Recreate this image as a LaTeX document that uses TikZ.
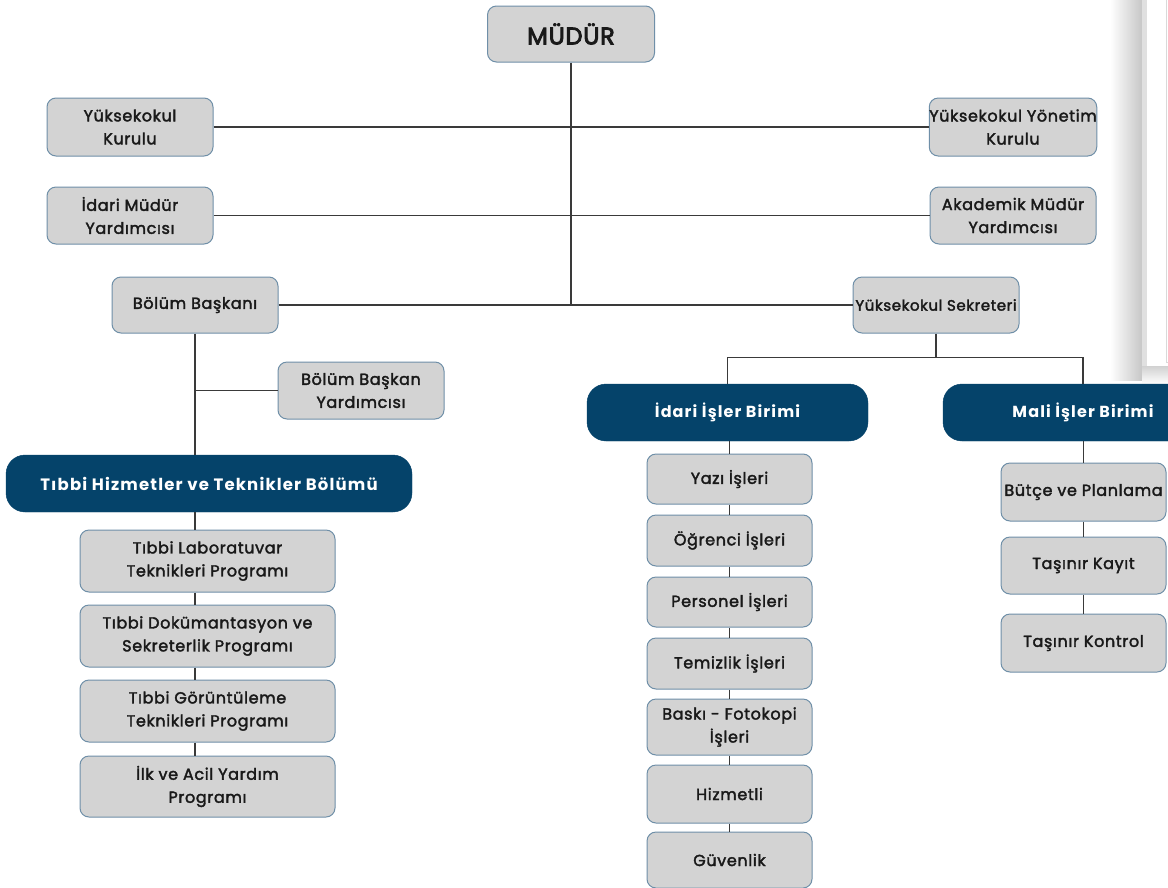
\documentclass[tikz,border=0pt]{standalone}
\usepackage{fontspec}
\setmainfont{Poppins}
\newfontfamily\gf{Poppins}[FakeBold=2.2, LetterSpace=4]
\newfontfamily\mf{Poppins}[FakeBold=3.6, LetterSpace=3]
\newfontfamily\df{Poppins}[LetterSpace=7]
\definecolor{boxgray}{HTML}{D3D3D3}
\definecolor{bord}{HTML}{6F8FA8}
\definecolor{navy}{HTML}{05436A}
\definecolor{linec}{HTML}{3A3A3A}
\begin{document}
\begin{tikzpicture}[x=1pt,y=-1pt,
  gbox/.style={draw=bord, fill=boxgray, line width=1pt, rounded corners=9pt, align=center, inner sep=0pt, text=black!90, font=\gf\fontsize{16}{23}\selectfont},
  dbox/.style={draw=navy, fill=navy, rounded corners=19pt, align=center, inner sep=0pt, text=white, font=\df\fontsize{16}{20}\selectfont\bfseries},
  wh/.style 2 args={minimum width=#1, minimum height=#2},
  conn/.style={draw=linec, line width=1.4pt}]
\clip (0,0) rectangle (1168,887);
\fill[white] (0,0) rectangle (1168,887);
% window frame artefact on the right
\shade[left color=white, right color=black!22] (1110,0) rectangle (1142,380);
\fill[black!12] (1142,0) rectangle (1147,380);
\shade[top color=black!18, bottom color=white] (1142,366) rectangle (1168,384);
\fill[white] (1147,0) rectangle (1168,364);
\draw[black!15, line width=0.6pt] (1166,0) -- (1166,362) -- (1168,362);

% nodes
\node[gbox, wh={167}{56}, font=\mf\fontsize{24}{28}\selectfont] (mudur) at (571,34) {MÜDÜR};
\node[gbox, wh={166}{58}] (yk) at (130,127) {Yüksekokul\\Kurulu};
\node[gbox, wh={166}{58}] (yyk) at (1013,127) {Yüksekokul Yönetim\\Kurulu};
\node[gbox, wh={166}{57}] (imy) at (130,215.5) {İdari Müdür\\Yardımcısı};
\node[gbox, wh={166}{57}] (amy) at (1013,215.5) {Akademik Müdür\\Yardımcısı};
\node[gbox, wh={166}{56}] (bb) at (195,305) {Bölüm Başkanı};
\node[gbox, wh={166}{56}, font=\gf\fontsize{15}{23}\selectfont] (ys) at (936,305) {Yüksekokul Sekreteri};
\node[gbox, wh={166}{57}] (bby) at (361,390.5) {Bölüm Başkan\\Yardımcısı};

\node[dbox, wh={406}{57}, font=\df\fontsize{16.5}{20}\selectfont\bfseries] (tibbi) at (209,483.5) {Tıbbi Hizmetler ve Teknikler Bölümü};
\node[gbox, wh={255}{62}] (p1) at (207.5,561) {Tıbbi Laboratuvar\\Teknikleri Programı};
\node[gbox, wh={255}{62}] (p2) at (207.5,636) {Tıbbi Dokümantasyon ve\\Sekreterlik Programı};
\node[gbox, wh={255}{62}] (p3) at (207.5,711) {Tıbbi Görüntüleme\\Teknikleri Programı};
\node[gbox, wh={255}{61}] (p4) at (207.5,786.5) {İlk ve Acil Yardım\\Programı};

\node[dbox, wh={281}{57}] (idari) at (727.5,412.5) {İdari İşler Birimi};
\node[gbox, wh={165}{50}] (i1) at (729.5,479) {Yazı İşleri};
\node[gbox, wh={165}{51}] (i2) at (729.5,540.5) {Öğrenci İşleri};
\node[gbox, wh={165}{50}] (i3) at (729.5,602) {Personel İşleri};
\node[gbox, wh={165}{51}] (i4) at (729.5,663.5) {Temizlik İşleri};
\node[gbox, wh={165}{56}] (i5) at (729.5,727) {Baskı - Fotokopi\\İşleri};
\node[gbox, wh={165}{58}] (i6) at (729.5,794) {Hizmetli};
\node[gbox, wh={165}{56}] (i7) at (729.5,860) {Güvenlik};

\node[dbox, wh={280}{57}] (mali) at (1083,412.5) {Mali İşler Birimi};
\node[gbox, wh={165}{58}] (m1) at (1083.5,492) {Bütçe ve Planlama};
\node[gbox, wh={165}{57}] (m2) at (1083.5,565.5) {Taşınır Kayıt};
\node[gbox, wh={165}{58}] (m3) at (1083.5,643) {Taşınır Kontrol};

% connectors
\draw[conn] (mudur.south) -- (mudur.south |- bb.east);
\draw[conn] (yk) -- (yyk);
\draw[conn] (imy) -- (amy);
\draw[conn] (bb) -- (ys);
\draw[conn] (ys.south) -- ++(0,24) coordinate (sj);
\draw[conn] (idari.north) |- (sj) -| (mali.north);
\draw[conn] (bb.south) -- (bb.south |- tibbi.north);
\draw[conn] (bb.south |- bby.west) -- (bby.west);
\draw[conn] (bb.south |- tibbi.south) -- (bb.south |- p1.north);
\draw[conn] (bb.south |- p1.south) -- (bb.south |- p2.north);
\draw[conn] (bb.south |- p2.south) -- (bb.south |- p3.north);
\draw[conn] (bb.south |- p3.south) -- (bb.south |- p4.north);
\draw[conn] (i1.north |- idari.south) -- (i1.north);
\draw[conn] (i1) -- (i2);
\draw[conn] (i2) -- (i3);
\draw[conn] (i3) -- (i4);
\draw[conn] (i4) -- (i5);
\draw[conn] (i5) -- (i6);
\draw[conn] (i6) -- (i7);
\draw[conn] (m1.north |- mali.south) -- (m1.north);
\draw[conn] (m1) -- (m2);
\draw[conn] (m2) -- (m3);
\end{tikzpicture}
\end{document}
